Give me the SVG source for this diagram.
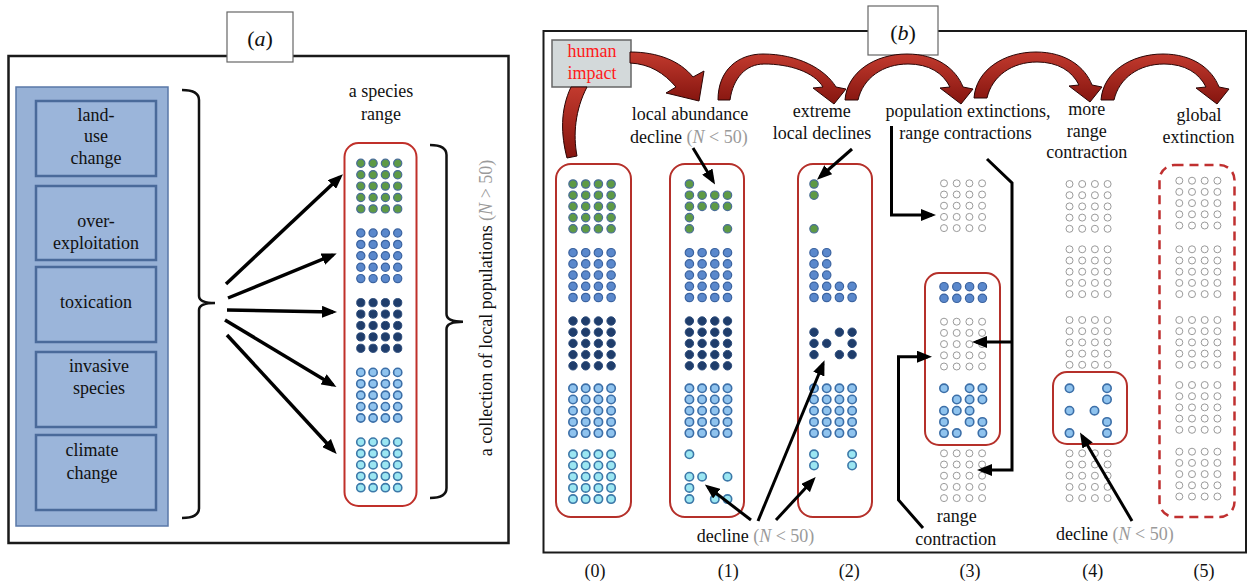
<svg xmlns="http://www.w3.org/2000/svg" width="1248" height="582" viewBox="0 0 1248 582">
<style>
.t{font-family:"Liberation Serif","Times New Roman","DejaVu Serif",serif;font-size:18px;fill:#111}
.big{font-size:22px}
.n{fill:#9a9a9a}
.i{font-style:italic}
.red{fill:#ff1a1a}
.frame{fill:none;stroke:#1a1a1a;stroke-width:2.5}
.lbl{fill:#fff;stroke:#666;stroke-width:1.2}
.g{fill:#5E9A45;stroke:#4A6E98;stroke-width:1.2}
.bl{fill:#5A88CC;stroke:#3B63A0;stroke-width:1.2}
.dk{fill:#1F3D6B;stroke:#2A4A7A;stroke-width:1}
.lb{fill:#8FC3EE;stroke:#3C6FA8;stroke-width:1.6}
.cy{fill:#9BE6F2;stroke:#3C78A8;stroke-width:1.6}
.gr{fill:#fff;stroke:#9a9a9a;stroke-width:1}
.rbox{fill:none;stroke:#B5302A;stroke-width:2}
.cause{fill:#9BB5DA;stroke:#4A6A9A;stroke-width:2.5}
.arr{fill:none;stroke:#000;stroke-width:3.5;marker-end:url(#ah)}
.arrb{fill:none;stroke:#000;stroke-width:3;marker-end:url(#ah2)}
.brace{fill:none;stroke:#111;stroke-width:2.5}
.arc{fill:url(#rg);stroke:#2a0505;stroke-width:1}
</style>
<defs>
<marker id="ah" viewBox="0 0 15 12" refX="11" refY="6" markerWidth="15" markerHeight="12" markerUnits="userSpaceOnUse" orient="auto"><path d="M0,0 L15,6 L0,12 z" fill="#000"/></marker>
<marker id="ah2" viewBox="0 0 15 12" refX="11" refY="6" markerWidth="15" markerHeight="12" markerUnits="userSpaceOnUse" orient="auto"><path d="M0,0 L15,6 L0,12 z" fill="#000"/></marker>
<linearGradient id="rg" x1="0" y1="0" x2="0" y2="1"><stop offset="0" stop-color="#C23A2E"/><stop offset="1" stop-color="#85150F"/></linearGradient>
<path id="arcG" d="M0,0 C2,-28 30,-46 62,-46 C92,-46 111,-31 118,-13 L128,-11 L116,4 L95,-12 L105,-13 C98,-27 84,-36 63,-36 C38,-36 18,-22 13,0 Z"/>
<path id="arcC" d="M0,0 C0,-30 20,-46 45,-46 C80,-46 107,-31 118,-13 L128,-11 L116,4 L95,-12 L105,-13 C96,-28 72,-36 46,-36 C28,-36 15,-22 12,0 Z"/>
<g id="bA">
<circle cx="0" cy="0" r="4.1"/><circle cx="12.3" cy="0" r="4.1"/><circle cx="24.6" cy="0" r="4.1"/><circle cx="36.9" cy="0" r="4.1"/>
<circle cx="0" cy="11.4" r="4.1"/><circle cx="12.3" cy="11.4" r="4.1"/><circle cx="24.6" cy="11.4" r="4.1"/><circle cx="36.9" cy="11.4" r="4.1"/>
<circle cx="0" cy="22.8" r="4.1"/><circle cx="12.3" cy="22.8" r="4.1"/><circle cx="24.6" cy="22.8" r="4.1"/><circle cx="36.9" cy="22.8" r="4.1"/>
<circle cx="0" cy="34.2" r="4.1"/><circle cx="12.3" cy="34.2" r="4.1"/><circle cx="24.6" cy="34.2" r="4.1"/><circle cx="36.9" cy="34.2" r="4.1"/>
<circle cx="0" cy="45.6" r="4.1"/><circle cx="12.3" cy="45.6" r="4.1"/><circle cx="24.6" cy="45.6" r="4.1"/><circle cx="36.9" cy="45.6" r="4.1"/>
</g>
<g id="bB">
<circle cx="0" cy="0" r="4.2"/><circle cx="12.7" cy="0" r="4.2"/><circle cx="25.4" cy="0" r="4.2"/><circle cx="38.1" cy="0" r="4.2"/>
<circle cx="0" cy="11.2" r="4.2"/><circle cx="12.7" cy="11.2" r="4.2"/><circle cx="25.4" cy="11.2" r="4.2"/><circle cx="38.1" cy="11.2" r="4.2"/>
<circle cx="0" cy="22.4" r="4.2"/><circle cx="12.7" cy="22.4" r="4.2"/><circle cx="25.4" cy="22.4" r="4.2"/><circle cx="38.1" cy="22.4" r="4.2"/>
<circle cx="0" cy="33.6" r="4.2"/><circle cx="12.7" cy="33.6" r="4.2"/><circle cx="25.4" cy="33.6" r="4.2"/><circle cx="38.1" cy="33.6" r="4.2"/>
<circle cx="0" cy="44.8" r="4.2"/><circle cx="12.7" cy="44.8" r="4.2"/><circle cx="25.4" cy="44.8" r="4.2"/><circle cx="38.1" cy="44.8" r="4.2"/>
</g>
<g id="bG">
<circle cx="0" cy="0" r="3.5"/><circle cx="12.7" cy="0" r="3.5"/><circle cx="25.4" cy="0" r="3.5"/><circle cx="38.1" cy="0" r="3.5"/>
<circle cx="0" cy="11.2" r="3.5"/><circle cx="12.7" cy="11.2" r="3.5"/><circle cx="25.4" cy="11.2" r="3.5"/><circle cx="38.1" cy="11.2" r="3.5"/>
<circle cx="0" cy="22.4" r="3.5"/><circle cx="12.7" cy="22.4" r="3.5"/><circle cx="25.4" cy="22.4" r="3.5"/><circle cx="38.1" cy="22.4" r="3.5"/>
<circle cx="0" cy="33.6" r="3.5"/><circle cx="12.7" cy="33.6" r="3.5"/><circle cx="25.4" cy="33.6" r="3.5"/><circle cx="38.1" cy="33.6" r="3.5"/>
<circle cx="0" cy="44.8" r="3.5"/><circle cx="12.7" cy="44.8" r="3.5"/><circle cx="25.4" cy="44.8" r="3.5"/><circle cx="38.1" cy="44.8" r="3.5"/>
</g>
</defs>
<rect width="1248" height="582" fill="#fff"/>

<!-- Panel (a) -->
<g id="panel-a">
<rect class="frame" x="8.5" y="56" width="500" height="487"/>
<rect class="lbl" x="227" y="12" width="66" height="50"/>
<text class="t big" x="260" y="46" text-anchor="middle">(<tspan class="i">a</tspan>)</text>
</g>

<g id="causes">
<rect x="16" y="87" width="152" height="439" fill="#97B1D6" stroke="#5A78A8" stroke-width="1.5"/>
<g id="cause-land-use">
<rect class="cause" x="36" y="101" width="120" height="75"/>
<text class="t" x="96" y="120.7" text-anchor="middle">land-</text>
<text class="t" x="96" y="142" text-anchor="middle">use</text>
<text class="t" x="96" y="163.5" text-anchor="middle">change</text>
</g>
<g id="cause-over">
<rect class="cause" x="36" y="186" width="120" height="74"/>
<text class="t" x="96" y="226.7" text-anchor="middle">over-</text>
<text class="t" x="96" y="249.3" text-anchor="middle">exploitation</text>
</g>
<g id="cause-tox">
<rect class="cause" x="36" y="267" width="120" height="75"/>
<text class="t" x="96" y="308" text-anchor="middle">toxication</text>
</g>
<g id="cause-invasive">
<rect class="cause" x="36" y="352" width="120" height="75"/>
<text class="t" x="99" y="371.7" text-anchor="middle">invasive</text>
<text class="t" x="99" y="394" text-anchor="middle">species</text>
</g>
<g id="cause-climate">
<rect class="cause" x="36" y="435" width="120" height="75"/>
<text class="t" x="92" y="455.7" text-anchor="middle">climate</text>
<text class="t" x="92" y="479" text-anchor="middle">change</text>
</g>
</g>

<g id="species-range">
<text class="t" x="381" y="96.7" text-anchor="middle">a species</text>
<text class="t" x="381" y="119.5" text-anchor="middle">range</text>
<rect x="344.5" y="143" width="72" height="363" rx="14" fill="#fff" stroke="#C0302A" stroke-width="2"/>
<use href="#bA" x="360.8" y="163.3" class="g"/>
<use href="#bA" x="360.8" y="233" class="bl"/>
<use href="#bA" x="360.8" y="302.7" class="dk"/>
<use href="#bA" x="360.8" y="372.4" class="lb"/>
<use href="#bA" x="360.8" y="442.1" class="cy"/>
</g>

<g id="pop-label">
<text class="t" transform="translate(491.5,308) rotate(-90)" text-anchor="middle">a collection of local populations <tspan class="n">(<tspan class="i">N</tspan> &gt; 50)</tspan></text>
</g>

<g id="connectors-a">
<path class="brace" d="M182,90 Q199,90 199,100 L199,296 Q199,303 215,303 Q199,303 199,310 L199,508 Q199,518 182,518"/>
<path class="brace" d="M430,145 Q446.5,145 446.5,155 L446.5,314 Q446.5,321.7 463,321.7 Q446.5,321.7 446.5,329 L446.5,488 Q446.5,498 430,498"/>
<line class="arr" x1="226" y1="284" x2="340" y2="177"/>
<line class="arr" x1="228" y1="298" x2="333" y2="255"/>
<line class="arr" x1="227" y1="310" x2="333" y2="312"/>
<line class="arr" x1="225" y1="320" x2="333" y2="385"/>
<line class="arr" x1="227" y1="335" x2="334" y2="451"/>
</g>

<!-- Panel (b) -->
<g id="panel-b">
<rect x="543.5" y="31" width="702.5" height="521.5" fill="none" stroke="#1a1a1a" stroke-width="2"/>
<rect class="lbl" x="868" y="6" width="70" height="49"/>
<text class="t big" x="903" y="40" text-anchor="middle">(<tspan class="i">b</tspan>)</text>
</g>

<g id="human-impact">
<rect x="552" y="40" width="79" height="47" fill="#D3D9DA" stroke="#666" stroke-width="1.5"/>
<text class="t red" x="592" y="57" text-anchor="middle">human</text>
<text class="t red" x="592" y="79" text-anchor="middle">impact</text>
</g>

<g id="stage-labels">
<text class="t" x="690" y="120" text-anchor="middle">local abundance</text>
<text class="t" x="630" y="142.7">decline <tspan class="n">(<tspan class="i">N</tspan> &lt; 50)</tspan></text>
<text class="t" x="821.7" y="116.7" text-anchor="middle">extreme</text>
<text class="t" x="822" y="139.3" text-anchor="middle">local declines</text>
<text class="t" x="968" y="116.5" text-anchor="middle">population extinctions,</text>
<text class="t" x="965.5" y="139.3" text-anchor="middle">range contractions</text>
<text class="t" x="1086.7" y="115" text-anchor="middle">more</text>
<text class="t" x="1086.7" y="136.5" text-anchor="middle">range</text>
<text class="t" x="1086.7" y="158.3" text-anchor="middle">contraction</text>
<text class="t" x="1199" y="120.7" text-anchor="middle">global</text>
<text class="t" x="1198.5" y="142.7" text-anchor="middle">extinction</text>
<text class="t" x="696.7" y="541.7">decline <tspan class="n">(<tspan class="i">N</tspan> &lt; 50)</tspan></text>
<text class="t" x="956.7" y="522" text-anchor="middle">range</text>
<text class="t" x="955.7" y="545" text-anchor="middle">contraction</text>
<text class="t" x="1056" y="540">decline <tspan class="n">(<tspan class="i">N</tspan> &lt; 50)</tspan></text>
<text class="t" x="595" y="577" text-anchor="middle">(0)</text>
<text class="t" x="728.3" y="577" text-anchor="middle">(1)</text>
<text class="t" x="849.3" y="577" text-anchor="middle">(2)</text>
<text class="t" x="970" y="577" text-anchor="middle">(3)</text>
<text class="t" x="1092.7" y="577" text-anchor="middle">(4)</text>
<text class="t" x="1204" y="577" text-anchor="middle">(5)</text>
</g>

<g id="col0">
<rect class="rbox" x="556" y="164" width="75" height="353" rx="15"/>
<use href="#bB" x="573" y="184" class="g"/>
<use href="#bB" x="573" y="252.7" class="bl"/>
<use href="#bB" x="573" y="321" class="dk"/>
<use href="#bB" x="573" y="388.3" class="lb"/>
<use href="#bB" x="573" y="454.3" class="cy"/>
</g>

<g id="col1">
<rect class="rbox" x="670" y="164" width="74" height="353" rx="15"/>
<g class="g">
<circle cx="689.4" cy="184" r="4.2"/>
<circle cx="689.4" cy="195.2" r="4.2"/><circle cx="702.1" cy="195.2" r="4.2"/><circle cx="714.8" cy="195.2" r="4.2"/><circle cx="727.5" cy="195.2" r="4.2"/>
<circle cx="689.4" cy="206.4" r="4.2"/><circle cx="702.1" cy="206.4" r="4.2"/><circle cx="714.8" cy="206.4" r="4.2"/><circle cx="727.5" cy="206.4" r="4.2"/>
<circle cx="689.4" cy="217.6" r="4.2"/>
<circle cx="689.4" cy="228.8" r="4.2"/><circle cx="727.5" cy="228.8" r="4.2"/>
</g>
<use href="#bB" x="689.4" y="252.7" class="bl"/>
<use href="#bB" x="689.4" y="321" class="dk"/>
<use href="#bB" x="689.4" y="388.3" class="lb"/>
<g class="cy">
<circle cx="689.4" cy="454.3" r="4.2"/>
<circle cx="689.4" cy="476.7" r="4.2"/><circle cx="702.1" cy="476.7" r="4.2"/><circle cx="727.5" cy="476.7" r="4.2"/>
<circle cx="689.4" cy="487.9" r="4.2"/>
<circle cx="689.4" cy="499.1" r="4.2"/><circle cx="714.8" cy="499.1" r="4.2"/><circle cx="727.5" cy="499.1" r="4.2"/>
</g>
</g>

<g id="col2">
<rect class="rbox" x="798" y="164" width="74" height="353" rx="15"/>
<g class="g">
<circle cx="814" cy="184" r="4.2"/><circle cx="814" cy="195.2" r="4.2"/><circle cx="814" cy="228.8" r="4.2"/>
</g>
<g class="bl">
<circle cx="814" cy="252.7" r="4.2"/><circle cx="826.7" cy="252.7" r="4.2"/>
<circle cx="814" cy="263.9" r="4.2"/><circle cx="826.7" cy="263.9" r="4.2"/>
<circle cx="814" cy="275.1" r="4.2"/><circle cx="826.7" cy="275.1" r="4.2"/>
<circle cx="814" cy="286.3" r="4.2"/><circle cx="826.7" cy="286.3" r="4.2"/><circle cx="839.4" cy="286.3" r="4.2"/><circle cx="852.1" cy="286.3" r="4.2"/>
<circle cx="814" cy="297.5" r="4.2"/><circle cx="826.7" cy="297.5" r="4.2"/><circle cx="839.4" cy="297.5" r="4.2"/><circle cx="852.1" cy="297.5" r="4.2"/>
</g>
<g class="dk">
<circle cx="814" cy="332.2" r="4.2"/><circle cx="839.4" cy="332.2" r="4.2"/><circle cx="852.1" cy="332.2" r="4.2"/>
<circle cx="814" cy="343.4" r="4.2"/><circle cx="826.7" cy="343.4" r="4.2"/><circle cx="852.1" cy="343.4" r="4.2"/>
<circle cx="814" cy="354.6" r="4.2"/><circle cx="839.4" cy="354.6" r="4.2"/><circle cx="852.1" cy="354.6" r="4.2"/>
</g>
<use href="#bB" x="814" y="388.3" class="lb"/>
<g class="cy">
<circle cx="814" cy="454.3" r="4.2"/><circle cx="852.1" cy="454.3" r="4.2"/>
<circle cx="814" cy="465.5" r="4.2"/><circle cx="852.1" cy="465.5" r="4.2"/>
</g>
</g>

<g id="col3">
<rect class="rbox" x="925" y="273" width="75" height="172" rx="14"/>
<use href="#bG" x="944" y="183.3" class="gr"/>
<g class="bl">
<circle cx="944" cy="286.7" r="4.2"/><circle cx="956.8" cy="286.7" r="4.2"/><circle cx="969.6" cy="286.7" r="4.2"/><circle cx="982.4" cy="286.7" r="4.2"/>
<circle cx="944" cy="298.3" r="4.2"/><circle cx="956.8" cy="298.3" r="4.2"/><circle cx="969.6" cy="298.3" r="4.2"/><circle cx="982.4" cy="298.3" r="4.2"/>
</g>
<use href="#bG" x="944" y="321.7" class="gr"/>
<g class="lb">
<circle cx="944" cy="388.3" r="4.2"/><circle cx="969.6" cy="388.3" r="4.2"/><circle cx="982.4" cy="388.3" r="4.2"/>
<circle cx="956.8" cy="399.5" r="4.2"/><circle cx="969.6" cy="399.5" r="4.2"/><circle cx="982.4" cy="399.5" r="4.2"/>
<circle cx="944" cy="410.7" r="4.2"/><circle cx="956.8" cy="410.7" r="4.2"/><circle cx="969.6" cy="410.7" r="4.2"/>
<circle cx="944" cy="421.9" r="4.2"/><circle cx="969.6" cy="421.9" r="4.2"/><circle cx="982.4" cy="421.9" r="4.2"/>
<circle cx="944" cy="433.1" r="4.2"/><circle cx="956.8" cy="433.1" r="4.2"/><circle cx="982.4" cy="433.1" r="4.2"/>
</g>
<use href="#bG" x="944" y="453.3" class="gr"/>
</g>

<g id="col4">
<rect class="rbox" x="1053" y="372" width="74" height="72" rx="14"/>
<use href="#bG" x="1069.5" y="184" class="gr"/>
<use href="#bG" x="1069.5" y="249.3" class="gr"/>
<use href="#bG" x="1069.5" y="320" class="gr"/>
<g class="lb">
<circle cx="1069.5" cy="388.3" r="4.2"/><circle cx="1107" cy="388.3" r="4.2"/>
<circle cx="1107" cy="399.5" r="4.2"/>
<circle cx="1069.5" cy="410.7" r="4.2"/><circle cx="1094.5" cy="410.7" r="4.2"/>
<circle cx="1107" cy="421.9" r="4.2"/>
<circle cx="1069.5" cy="433.1" r="4.2"/><circle cx="1107" cy="433.1" r="4.2"/>
</g>
<use href="#bG" x="1069.5" y="453.3" class="gr"/>
</g>

<g id="col5">
<rect x="1159.5" y="165" width="75" height="352" rx="15" fill="none" stroke="#C03030" stroke-width="2.5" stroke-dasharray="9 6"/>
<use href="#bG" x="1179.3" y="180.7" class="gr"/>
<use href="#bG" x="1179.3" y="249.3" class="gr"/>
<use href="#bG" x="1179.3" y="320" class="gr"/>
<use href="#bG" x="1179.3" y="385" class="gr"/>
<use href="#bG" x="1179.3" y="451.7" class="gr"/>
</g>

<g id="connectors-b">
<path class="arc" d="M571,87 C560,110 561,135 567,158 L577,156 C573,135 575,110 587,87 Z"/>
<path class="arc" d="M630,52 C658,52 680,61 693,77 L704,71 L699,101 L666,93 L676,87 C664,73 650,64 630,63 Z"/>
<use href="#arcC" class="arc" transform="translate(718,100)"/>
<use href="#arcG" class="arc" transform="translate(845,100)"/>
<use href="#arcG" class="arc" transform="translate(974,98)"/>
<use href="#arcG" class="arc" transform="translate(1101,100)"/>
<line class="arrb" x1="693" y1="148" x2="713" y2="181"/>
<line class="arrb" x1="852" y1="149" x2="820" y2="177"/>
<line class="arrb" x1="751" y1="520" x2="708" y2="487"/>
<line class="arrb" x1="758" y1="521" x2="823" y2="364"/>
<line class="arrb" x1="776" y1="520" x2="813" y2="480"/>
<line class="arrb" x1="1132" y1="521" x2="1082" y2="436"/>
<polyline class="arrb" points="891.5,126 891.5,215 932,215"/>
<polyline class="arrb" points="987,159 1012,183 1012,470 981,470"/>
<line class="arrb" x1="1012" y1="342" x2="976" y2="342"/>
<polyline class="arrb" points="923,528 898.5,500 898.5,356.7 928,356.7"/>
</g>
</svg>
